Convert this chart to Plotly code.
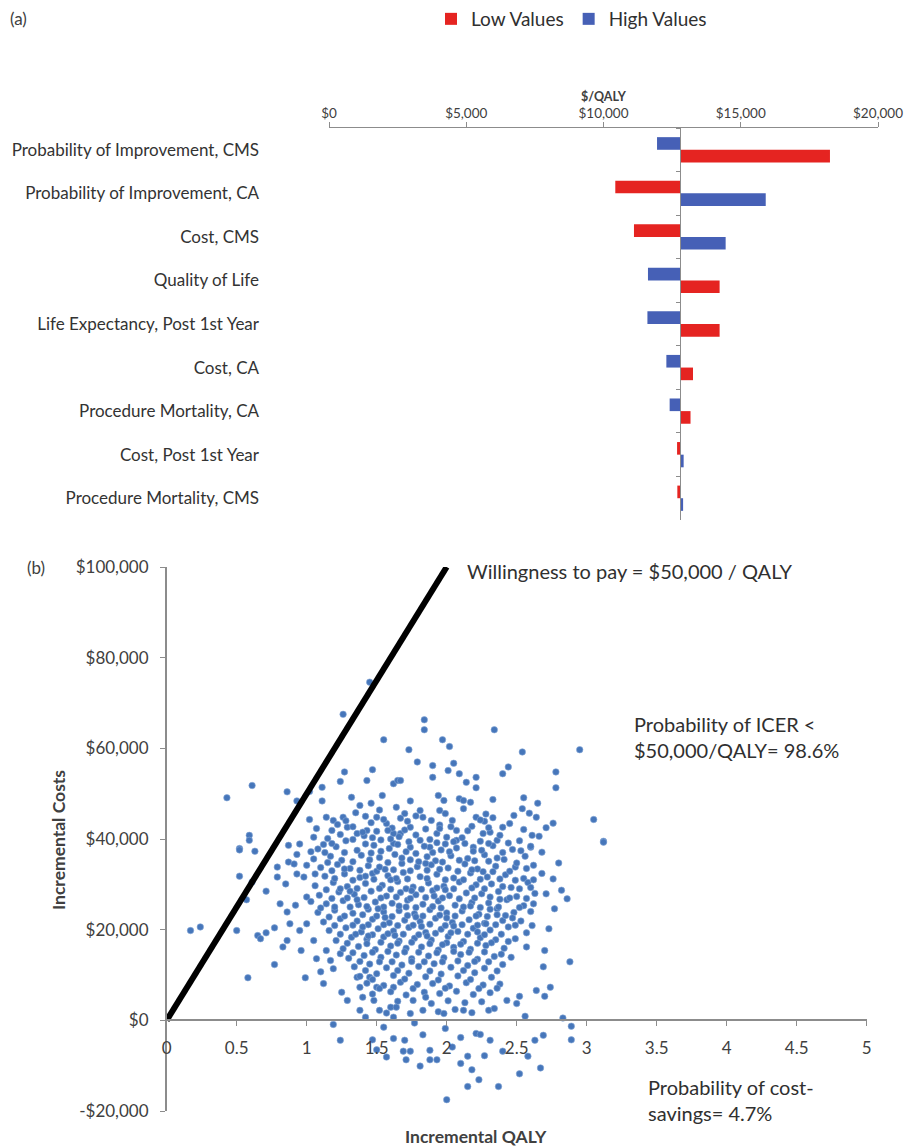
import plotly.graph_objects as go

# ---------------- Panel (a): tornado diagram ----------------
params = [
    "Probability of Improvement, CMS",
    "Probability of Improvement, CA",
    "Cost, CMS",
    "Quality of Life",
    "Life Expectancy, Post 1st Year",
    "Cost, CA",
    "Procedure Mortality, CA",
    "Cost, Post 1st Year",
    "Procedure Mortality, CMS",
]
low_values = [18250, 10430, 11110, 14230, 14230, 13260, 13170, 12680, 12690]
high_values = [11950, 15910, 14450, 11620, 11600, 12290, 12410, 12920, 12900]
base_icer = 12800
tornado_ticks = [0, 5000, 10000, 15000, 20000]
tornado_tick_text = ["$0", "$5,000", "$10,000", "$15,000", "$20,000"]

# ---------------- Panel (b): cost-effectiveness plane ----------------
wtp = 50000
# (incremental QALY, incremental cost in $ thousands)
upper_points = [
    (1.45, 74.6), (1.26, 67.5), (1.55, 61.9), (0.61, 51.8), (0.43, 49.1), (0.86, 50.4), (1.02, 50.5),
    (0.93, 48.4), (1.11, 51.4), (1.27, 54.8), (1.24, 52.7), (1.47, 55.3), (1.43, 52.9), (1.11, 48.4),
    (1.32, 49.2), (1.38, 47.4), (1.46, 47.9), (1.54, 49.6), (1.62, 52.2), (1.65, 52.9), (1.02, 44.3),
    (1.07, 42.3), (1.14, 44.8), (1.19, 44.1), (1.26, 44.8), (1.18, 41.9), (1.29, 42.6), (1.36, 41.2),
    (1.43, 41.9), (1.50, 44.8), (1.57, 43.4), (1.62, 41.2), (1.05, 40.4), (0.59, 40.8), (0.59, 39.7),
    (0.52, 37.9), (0.87, 38.6), (1.84, 66.3), (1.84, 64.1), (2.34, 64.1), (1.97, 61.9), (2.02, 60.4),
    (1.73, 59.7), (2.54, 59.2), (2.95, 59.7), (1.79, 57.0), (1.90, 56.2), (2.05, 56.7), (2.01, 55.1),
    (2.09, 54.4), (1.90, 53.6), (2.21, 53.6), (2.14, 52.5), (2.21, 51.3), (2.40, 54.4), (2.44, 55.9),
    (2.78, 54.8), (2.78, 51.3), (1.67, 52.9), (1.94, 49.6), (2.09, 48.9), (2.17, 48.1), (2.33, 48.7),
    (2.55, 49.1), (2.65, 47.9), (1.74, 48.4), (2.54, 46.7), (2.59, 45.7), (2.48, 45.2), (2.64, 44.8),
    (2.33, 44.7), (2.21, 44.8), (2.27, 43.9), (2.76, 43.5), (2.71, 42.5), (3.05, 44.3), (3.12, 39.5),
    (2.40, 42.6), (2.31, 41.5), (2.61, 40.8), (2.66, 40.6), (2.36, 39.7), (2.60, 38.2), (1.64, 47.0),
    (1.70, 45.6), (1.81, 46.3), (1.83, 44.8), (1.89, 44.1), (1.95, 46.3), (1.99, 45.6), (2.04, 44.1),
    (2.07, 41.9), (1.74, 42.6), (1.67, 41.2), (1.93, 41.2), (2.00, 40.4), (2.07, 39.7), (1.81, 39.7),
    (1.88, 38.2), (1.74, 38.2), (1.62, 39.0), (2.19, 38.2), (2.26, 41.2), (2.12, 48.5), (1.98, 48.5),
    (0.95, 38.9), (1.03, 37.2), (0.93, 36.6), (1.12, 38.8),
]
left_points = [
    (0.17, 19.8), (0.24, 20.6), (0.50, 19.8), (0.58, 9.4), (0.77, 12.3), (0.65, 18.7), (0.67, 18.0),
    (0.71, 19.3), (0.77, 20.4), (0.99, 9.4), (1.12, 8.1), (1.19, -0.9), (1.24, -4.4), (0.52, 31.8),
    (0.52, 37.6), (0.63, 37.3), (0.71, 28.5), (0.57, 26.6), (0.61, 30.5), (0.85, 30.1), (0.79, 31.6),
    (0.79, 33.8), (0.87, 34.9), (0.91, 34.5), (0.93, 32.3), (0.98, 31.6), (1.00, 34.2), (1.06, 32.3),
    (1.00, 27.2), (0.81, 25.7), (0.86, 23.9), (0.92, 25.4), (0.88, 21.3), (0.95, 19.8), (1.00, 21.3),
    (0.83, 16.2), (0.86, 17.6), (0.96, 15.4), (1.05, 17.6), (1.07, 13.6), (1.14, 15.4), (1.17, 13.2),
    (1.19, 11.4), (1.24, 14.7), (1.10, 10.7), (1.25, 6.2), (1.29, 4.4), (1.36, 9.5), (1.38, 7.3),
    (1.40, 5.1), (1.48, 4.4), (1.52, 2.2), (1.38, 2.2), (1.42, 0.7), (1.60, 2.9), (1.62, 0.7),
    (1.55, -1.5), (1.62, -4.0), (1.57, -8.1), (1.45, 9.5), (1.50, 7.3), (1.62, 7.3),
]
core_points = [
    (1.35, 45.8), (1.52, 46.4), (1.78, 45.1), (2.12, 46.7), (2.28, 45.5),
    (1.22, 43.2), (1.33, 42.7), (1.46, 43.6), (1.61, 42.4), (1.72, 43.9), (1.95, 43.1), (2.18, 42.8), (2.45, 43.4),
    (1.15, 40.1), (1.28, 39.6), (1.41, 40.7), (1.53, 39.8), (1.66, 40.5), (1.78, 40.9), (1.88, 39.9), (1.99, 38.9),
    (2.11, 40.3), (2.24, 39.5), (2.38, 40.8), (2.52, 39.6),
    (1.08, 37.8), (1.21, 38.3), (1.36, 37.5), (1.48, 38.6), (1.59, 37.9), (1.71, 37.2), (1.84, 38.4), (1.96, 37.6),
    (2.07, 38.0), (2.19, 37.3), (2.33, 38.5), (2.47, 37.7), (2.68, 37.1),
    (1.05, 35.6), (1.17, 36.2), (1.25, 35.3), (1.39, 36.4), (1.52, 35.9), (1.63, 36.6), (1.74, 35.4), (1.86, 36.1),
    (1.92, 35.2), (2.03, 36.3), (2.15, 35.7), (2.27, 36.5), (2.41, 35.5), (2.56, 36.2),
    (1.10, 33.7), (1.22, 34.4), (1.31, 33.5), (1.44, 34.1), (1.56, 33.3), (1.68, 34.6), (1.79, 33.9), (1.89, 34.3),
    (2.01, 33.6), (2.13, 34.5), (2.22, 33.4), (2.35, 34.0), (2.49, 33.8), (2.62, 34.2),
    (1.13, 31.8), (1.27, 32.3), (1.38, 31.5), (1.47, 32.4), (1.58, 31.9), (1.69, 32.6), (1.81, 31.7), (1.93, 32.2),
    (2.05, 31.4), (2.17, 32.5), (2.29, 31.6), (2.42, 32.1), (2.55, 31.3), (2.68, 32.4),
    (1.06, 29.7), (1.19, 30.4), (1.29, 29.5), (1.42, 30.2), (1.54, 29.8), (1.65, 30.6), (1.76, 29.4), (1.87, 30.3),
    (1.98, 29.6), (2.09, 30.5), (2.21, 29.9), (2.32, 30.1), (2.46, 29.3), (2.58, 30.4),
    (1.09, 27.6), (1.23, 28.3), (1.34, 27.8), (1.46, 28.5), (1.57, 27.4), (1.67, 28.2), (1.78, 27.7), (1.90, 28.6),
    (2.02, 27.5), (2.14, 28.1), (2.25, 27.9), (2.37, 28.4), (2.50, 27.3), (2.63, 28.0),
    (1.03, 26.2), (1.14, 25.7), (1.26, 26.4), (1.37, 25.5), (1.49, 26.1), (1.61, 25.8), (1.72, 26.5), (1.83, 25.6),
    (1.94, 26.3), (2.06, 25.4), (2.18, 26.0), (2.30, 25.9), (2.43, 26.6), (2.55, 25.3),
    (1.08, 23.8), (1.20, 24.3), (1.33, 23.6), (1.44, 24.5), (1.55, 23.9), (1.66, 24.2), (1.77, 23.5), (1.88, 24.4),
    (2.00, 23.7), (2.11, 24.1), (2.23, 23.4), (2.36, 24.6), (2.48, 23.8), (2.60, 24.0),
    (1.12, 21.7), (1.24, 22.4), (1.36, 21.9), (1.47, 22.3), (1.59, 21.5), (1.70, 22.1), (1.81, 21.8), (1.92, 22.5),
    (2.04, 21.6), (2.16, 22.2), (2.27, 21.4), (2.40, 22.0), (2.53, 21.9),
    (1.16, 19.8), (1.28, 20.4), (1.39, 19.5), (1.51, 20.2), (1.62, 19.7), (1.73, 20.5), (1.85, 19.4), (1.96, 20.1),
    (2.08, 19.6), (2.19, 20.3), (2.31, 19.9), (2.44, 20.6), (2.57, 19.3),
    (1.21, 17.6), (1.32, 18.3), (1.43, 17.9), (1.55, 18.4), (1.66, 17.5), (1.77, 18.1), (1.89, 17.7), (2.01, 18.5),
    (2.12, 17.4), (2.24, 18.2), (2.35, 17.8), (2.49, 18.0),
    (1.26, 15.8), (1.37, 16.3), (1.49, 15.6), (1.60, 16.4), (1.71, 15.9), (1.82, 16.2), (1.94, 15.5), (2.05, 16.1),
    (2.17, 15.7), (2.28, 16.5), (2.41, 15.9),
    (1.30, 13.7), (1.41, 14.3), (1.53, 13.9), (1.64, 14.4), (1.75, 13.6), (1.87, 14.2), (1.98, 13.8), (2.10, 14.5),
    (2.22, 13.5), (2.34, 14.1), (2.46, 13.9),
    (1.34, 11.8), (1.45, 12.4), (1.57, 11.6), (1.68, 12.2), (1.80, 11.9), (1.91, 12.5), (2.03, 11.7), (2.15, 12.1),
    (2.27, 11.5), (2.40, 12.3),
    (1.38, 9.7), (1.50, 10.3), (1.62, 9.9), (1.73, 10.4), (1.85, 9.6), (1.96, 10.2), (2.08, 9.8), (2.20, 10.5), (2.32, 9.5),
    (1.43, 8.2), (1.55, 7.7), (1.67, 8.4), (1.79, 7.9), (1.90, 8.1), (2.02, 7.6), (2.14, 8.3), (2.26, 7.8), (2.38, 8.0),
    (1.47, 5.8), (1.60, 6.3), (1.71, 5.6), (1.84, 6.2), (1.95, 5.9), (2.07, 6.4), (2.19, 5.7), (2.31, 6.1),
    (1.65, 4.2), (1.89, 3.7), (2.01, 4.3), (2.13, 3.9), (2.25, 4.1),
    (1.57, 1.6), (1.94, 1.9), (2.06, 2.4), (2.18, 1.7), (2.30, 2.2),
]
dense_points = [
    (1.40, 41.5), (1.58, 41.9), (1.85, 42.2), (2.15, 41.8),
    (1.27, 37.0), (1.42, 38.9), (1.65, 38.8), (1.90, 37.0), (2.13, 39.0), (2.40, 37.0),
    (1.33, 35.0), (1.46, 36.9), (1.58, 34.8), (1.80, 35.0), (1.97, 34.9), (2.09, 35.3), (2.30, 35.1),
    (1.38, 33.1), (1.50, 32.9), (1.62, 33.2), (1.74, 33.0), (1.86, 33.1), (2.08, 32.9), (2.26, 32.8), (2.45, 32.9),
    (1.33, 30.9), (1.48, 31.1), (1.60, 31.0), (1.72, 31.2), (1.99, 31.0), (2.12, 31.0), (2.38, 31.2),
    (1.24, 29.0), (1.36, 29.1), (1.60, 28.9), (1.71, 29.0), (1.82, 28.9), (1.93, 29.2), (2.05, 29.0), (2.27, 29.0), (2.52, 29.0),
    (1.29, 27.0), (1.41, 27.1), (1.53, 27.0), (1.74, 26.9), (1.85, 27.1), (1.97, 27.0), (2.20, 27.0), (2.31, 27.2), (2.45, 27.0),
    (1.20, 25.0), (1.43, 25.1), (1.55, 25.0), (1.66, 25.2), (1.78, 24.9), (1.90, 25.1), (2.12, 25.0), (2.24, 24.9), (2.37, 25.0),
    (1.27, 23.0), (1.50, 23.0), (1.61, 22.9), (1.72, 23.1), (1.83, 23.0), (1.95, 23.2), (2.06, 23.0), (2.29, 22.9), (2.42, 23.1),
    (1.33, 21.0), (1.44, 21.1), (1.65, 20.9), (1.76, 21.0), (1.88, 21.2), (1.99, 20.9), (2.11, 21.1), (2.22, 21.0), (2.35, 21.1),
    (1.35, 19.0), (1.47, 18.9), (1.58, 19.1), (1.69, 19.0), (1.80, 18.9), (1.92, 19.2), (2.15, 19.0), (2.27, 18.9),
    (1.43, 16.9), (1.65, 17.0), (1.88, 16.9), (2.00, 17.1), (2.22, 17.0),
    (1.47, 15.0), (1.70, 15.1), (1.93, 14.9), (2.16, 15.0),
    (1.52, 12.9), (1.75, 13.0), (1.97, 12.9), (2.20, 13.0),
]
fill_points = [
    (1.28, 44.0), (1.55, 44.3), (1.67, 44.6), (2.24, 44.2), (1.42, 45.0),
    (1.24, 41.0), (1.50, 41.7), (1.70, 42.0), (1.95, 42.3), (2.03, 42.7), (2.30, 42.5), (2.55, 42.1),
    (1.18, 39.0), (1.33, 39.9), (1.47, 40.3), (1.60, 40.0), (1.73, 39.4), (1.93, 39.2), (2.05, 39.4), (2.30, 39.0), (2.44, 39.1),
    (1.13, 37.0), (1.53, 37.3), (1.78, 36.8), (2.02, 37.2), (2.25, 37.5), (2.53, 37.4),
    (1.15, 34.8), (1.45, 35.4), (1.68, 35.8), (1.85, 34.6), (2.20, 35.2), (2.36, 35.8), (2.50, 34.7),
    (1.18, 33.0), (1.27, 33.4), (1.52, 33.8), (1.95, 33.3), (2.18, 33.2), (2.33, 32.8), (2.57, 33.5),
    (1.20, 31.3), (1.42, 31.8), (1.64, 31.3), (1.86, 31.3), (2.24, 31.1), (2.49, 30.9), (2.62, 31.0),
    (1.14, 28.8), (1.31, 28.5), (1.52, 29.1), (1.75, 28.6), (1.99, 28.8), (2.18, 29.2), (2.40, 29.5), (2.60, 29.3),
    (1.18, 26.9), (1.36, 26.6), (1.64, 27.2), (1.91, 27.4), (2.09, 26.8), (2.38, 26.7), (2.57, 26.9),
    (1.10, 24.8), (1.31, 25.0), (1.51, 24.6), (1.71, 25.0), (1.96, 24.8), (2.17, 25.2), (2.31, 24.5), (2.52, 24.9),
    (1.16, 22.8), (1.40, 23.3), (1.56, 22.7), (1.78, 22.8), (2.00, 22.6), (2.21, 23.0), (2.36, 23.3), (2.47, 22.6),
    (1.20, 20.9), (1.40, 20.6), (1.55, 21.1), (1.82, 20.7), (2.05, 20.8), (2.28, 21.3), (2.49, 21.0),
    (1.24, 19.0), (1.44, 18.6), (1.63, 18.7), (1.86, 18.6), (2.03, 19.3), (2.22, 19.5), (2.39, 19.0),
    (1.29, 17.0), (1.53, 17.2), (1.75, 17.2), (1.97, 16.7), (2.10, 16.8), (2.32, 17.1), (2.44, 17.4),
    (1.33, 14.9), (1.58, 15.2), (1.80, 15.0), (2.05, 15.2), (2.27, 15.1), (2.39, 14.6),
    (1.38, 13.0), (1.61, 12.9), (1.84, 12.9), (2.08, 13.1), (2.30, 12.9),
    (1.42, 11.0), (1.65, 11.0), (1.88, 10.9), (2.12, 11.0), (2.36, 10.9),
    (1.47, 9.0), (1.70, 9.1), (1.94, 8.9), (2.17, 9.0),
    (1.52, 7.0), (1.76, 7.0), (1.99, 7.1), (2.23, 7.0),
]
lower_points = [
    (2.00, -17.5), (2.15, -14.6), (2.37, -14.6), (2.23, -13.1), (2.18, -10.9), (2.15, -7.9), (2.52, -11.8),
    (2.67, -10.5), (2.58, -7.9), (1.81, -10.1), (1.88, -8.7), (1.93, -8.7), (1.71, -8.7), (1.69, -6.8),
    (1.74, -6.8), (1.88, -6.6), (1.70, -4.4), (2.04, -5.9), (2.31, -4.4), (2.63, -4.4), (2.69, -3.3),
    (2.89, -4.3), (2.89, -1.3), (2.83, 0.5), (2.21, -2.9), (2.24, -3.1), (1.99, -1.8), (1.77, -0.6),
    (2.56, 0.9), (2.88, 12.9), (2.73, 20.2), (2.77, 24.6), (2.70, 15.4), (2.69, 11.8), (2.74, 7.3),
    (2.70, 5.3), (2.64, 6.6), (2.52, 5.3), (2.50, 3.7), (2.80, 34.7), (2.82, 28.7), (2.86, 26.8),
    (2.76, 31.2), (2.60, 38.4), (3.12, 39.3), (2.71, 27.9), (2.62, 25.7), (2.61, 20.9), (2.57, 16.2),
    (2.34, 2.6), (2.36, 7.1), (2.43, 4.4), (2.12, 2.2), (1.98, 1.5), (1.83, 2.2), (1.74, 1.5),
    (1.64, 2.9), (1.76, 4.4), (1.85, 5.1), (1.47, -4.3), (1.50, -6.5), (1.83, -3.2), (2.10, -3.8),
    (2.27, -7.8), (2.40, -6.8), (2.10, -9.5),
]
cost_ticks = [-20000, 0, 20000, 40000, 60000, 80000, 100000]
cost_tick_text = ["-$20,000", "$0", "$20,000", "$40,000", "$60,000", "$80,000", "$100,000"]
qaly_ticks = [0, 0.5, 1, 1.5, 2, 2.5, 3, 3.5, 4, 4.5, 5]

# ---------------- Layout geometry (page body has an 8px margin) ----------------
W, H = 913, 1146
PAGE_OFF = 8


def px(x):
    return (x - PAGE_OFF) / W


def py(y):
    return 1 - (y - PAGE_OFF) / H


XA = [px(329), px(878)]
YA = [py(520), py(128)]
XB = [px(166.7), px(866.7)]
YB = [py(1111), py(567)]
FONT = "Lato, 'Open Sans', sans-serif"
TXT = "#404040"
AX = "#8c8c8c"
RED = "#E52421"
BLUE = "#4660B6"
bar_w = 0.29

fig = go.Figure()


def offsets(vals):
    return [-bar_w if v < base_icer else 0.0 for v in vals]


fig.add_trace(go.Bar(
    y=params, x=[v - base_icer for v in low_values], base=base_icer, orientation="h",
    width=bar_w, offset=offsets(low_values), marker=dict(color=RED, line=dict(width=0)),
    name="Low Values", xaxis="x", yaxis="y"))
fig.add_trace(go.Bar(
    y=params, x=[v - base_icer for v in high_values], base=base_icer, orientation="h",
    width=bar_w, offset=offsets(high_values), marker=dict(color=BLUE, line=dict(width=0)),
    name="High Values", xaxis="x", yaxis="y"))
# invisible trace carrying the central (base-case) axis
fig.add_trace(go.Scatter(
    x=[base_icer] * len(params), y=params, mode="markers", marker=dict(opacity=0),
    showlegend=False, hoverinfo="skip", xaxis="x", yaxis="y3"))

all_points = upper_points + left_points + core_points + dense_points + fill_points + lower_points
fig.add_trace(go.Scatter(
    x=[p[0] for p in all_points], y=[p[1] * 1000 for p in all_points], mode="markers",
    marker=dict(size=6.5, color="#4676BA", line=dict(width=0.6, color="#86A8D6")),
    showlegend=False, xaxis="x2", yaxis="y2"))
fig.add_trace(go.Scatter(
    x=[0, cost_ticks[-1] / wtp], y=[0, cost_ticks[-1]], mode="lines",
    line=dict(color="black", width=6), showlegend=False, xaxis="x2", yaxis="y2"))

center_pos = XA[0] + base_icer / tornado_ticks[-1] * (XA[1] - XA[0])
zero_pos = YB[0] + (0 - cost_ticks[0]) / (cost_ticks[-1] - cost_ticks[0]) * (YB[1] - YB[0])

fig.update_layout(
    width=W, height=H, margin=dict(l=0, r=0, t=0, b=0, autoexpand=False),
    paper_bgcolor="white", plot_bgcolor="rgba(0,0,0,0)",
    font=dict(family=FONT, color=TXT),
    barmode="overlay", showlegend=True,
    legend=dict(orientation="h", x=px(431), y=py(19), xanchor="left", yanchor="middle",
                font=dict(size=19, color="#303030"), itemwidth=30, traceorder="normal"),
    xaxis=dict(domain=XA, anchor="y", side="top", range=[0, tornado_ticks[-1]],
               tickvals=tornado_ticks, ticktext=tornado_tick_text, automargin=False,
               showgrid=False, zeroline=False, showline=True, linecolor=AX, linewidth=1,
               ticks="outside", ticklen=5, tickcolor=AX, tickfont=dict(size=13.5, color=TXT),
               ticklabelstandoff=-1,
               title=dict(text="<b>$/QALY</b>", font=dict(size=12.5, color=TXT), standoff=0)),
    yaxis=dict(domain=YA, anchor="x", type="category", categoryarray=params, automargin=False,
               range=[len(params) - 0.5, -0.5], showgrid=False, zeroline=False, showline=False,
               ticks="", ticklabelstandoff=69, tickfont=dict(size=17, color="#333333")),
    yaxis3=dict(overlaying="y", anchor="free", position=center_pos, type="category",
                categoryarray=params, range=[len(params) - 0.5, -0.5], showgrid=False,
                automargin=False,
                zeroline=False, showline=True, linecolor=AX, linewidth=1, ticks="outside",
                ticklen=4, tickcolor=AX, tickson="boundaries", showticklabels=False),
    xaxis2=dict(domain=XB, anchor="free", position=zero_pos, range=[0, 5], tickvals=qaly_ticks,
                automargin=False, ticklabelstandoff=8,
                showgrid=False, zeroline=False, showline=True, linecolor=AX, linewidth=1.5,
                ticks="outside", ticklen=5, tickcolor=AX, tickfont=dict(size=17, color=TXT)),
    yaxis2=dict(domain=YB, anchor="x2", range=[cost_ticks[0], cost_ticks[-1]], automargin=False,
                tickvals=cost_ticks, ticktext=cost_tick_text, showgrid=False, zeroline=False,
                ticklabelstandoff=8,
                showline=True, linecolor=AX, linewidth=1.5, ticks="outside", ticklen=5,
                tickcolor=AX, tickfont=dict(size=17, color=TXT)),
)

ann = [
    dict(text="(a)", x=px(8), y=py(18), xanchor="left", yanchor="middle", font=dict(size=17)),
    dict(text="(b)", x=px(25), y=py(567), xanchor="left", yanchor="middle", font=dict(size=17)),
    dict(text="<b>Incremental Costs</b>", x=px(58), y=py(840), textangle=-90,
         xanchor="center", yanchor="middle", font=dict(size=17.5)),
    dict(text="<b>Incremental QALY</b>", x=px(476), y=py(1136), xanchor="center",
         yanchor="middle", font=dict(size=17.5)),
]
for a in ann:
    a.update(xref="paper", yref="paper", showarrow=False)
    fig.add_annotation(**a)

fig.add_annotation(text="Willingness to pay = $50,000 / QALY", x=2.13, y=99200, xref="x2", yref="y2",
                   xanchor="left", yanchor="middle", showarrow=False, font=dict(size=20, color="#303030"))
fig.add_annotation(text="Probability of ICER &lt;<br>$50,000/QALY= 98.6%", x=3.32, y=62600, xref="x2",
                   yref="y2", xanchor="left", yanchor="middle", align="left", showarrow=False,
                   font=dict(size=20, color="#303030"))
fig.add_annotation(text="Probability of cost-<br>savings= 4.7%", x=3.42, y=-17600, xref="x2",
                   yref="y2", xanchor="left", yanchor="middle", align="left", showarrow=False,
                   font=dict(size=20, color="#303030"))

fig.write_html("out.html")
